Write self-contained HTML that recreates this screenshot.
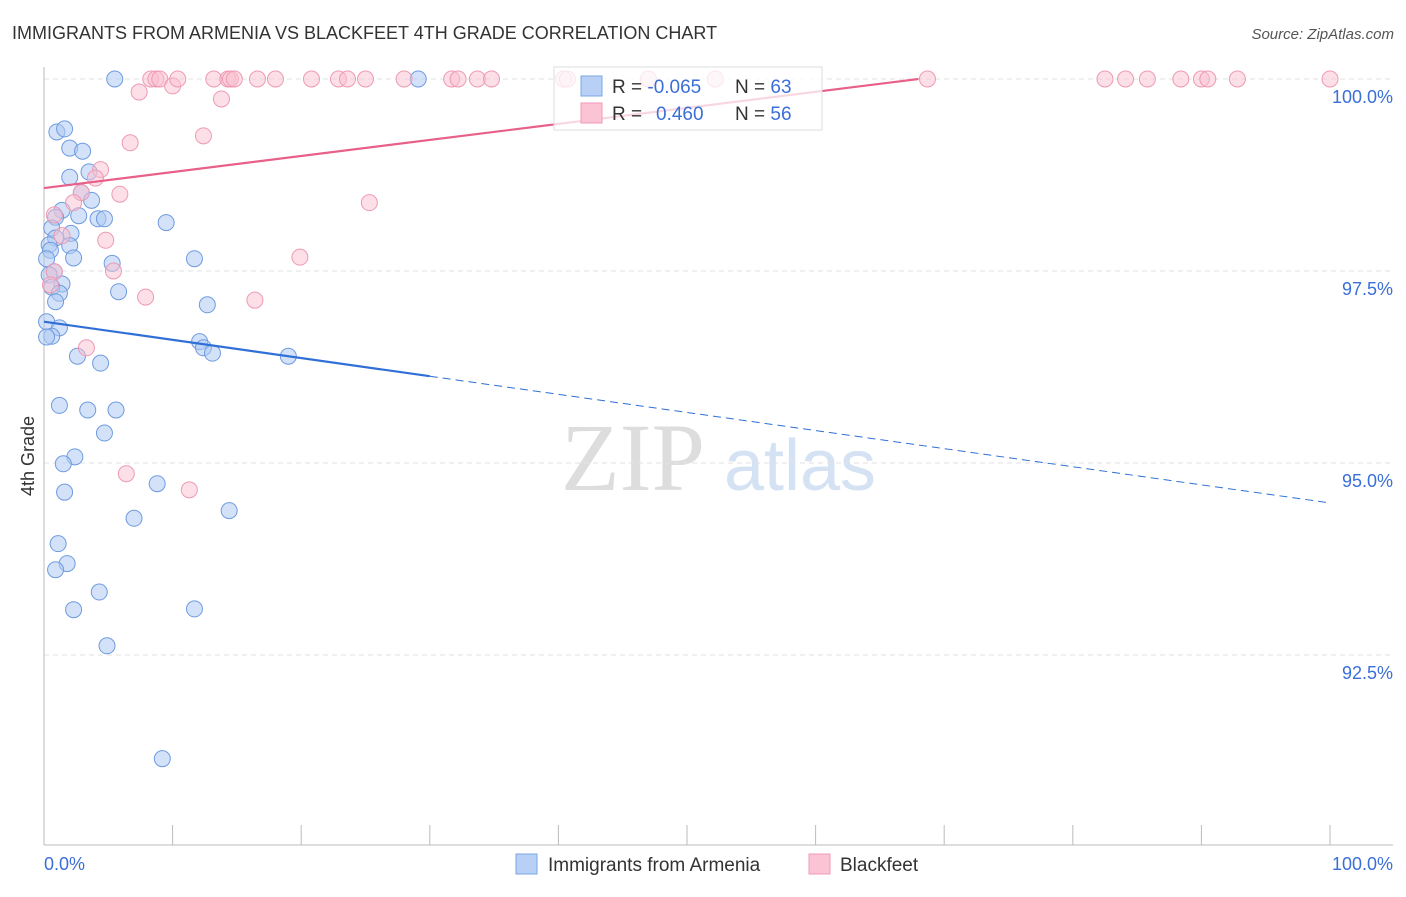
<!DOCTYPE html>
<html><head><meta charset="utf-8"><style>
body{margin:0;background:#fff;font-family:"Liberation Sans",sans-serif}
</style></head><body>
<svg id="chart" width="1406" height="892" xmlns="http://www.w3.org/2000/svg" font-family="Liberation Sans, sans-serif">
<text x="12" y="39" font-size="18" fill="#333">IMMIGRANTS FROM ARMENIA VS BLACKFEET 4TH GRADE CORRELATION CHART</text>
<text x="1394" y="39" font-size="15" fill="#555" text-anchor="end" font-style="italic">Source: ZipAtlas.com</text>
<g><text x="633" y="490" font-size="96" fill="#ddd" text-anchor="middle" font-family="Liberation Serif, serif">ZIP</text><text x="800" y="490" font-size="72" fill="#d4e2f4" text-anchor="middle">atlas</text></g>
<g id="grid"></g><g id="axes"></g><g id="marks"></g>
<text transform="translate(34,456) rotate(-90)" font-size="18" fill="#333" text-anchor="middle">4th Grade</text>
<g>
<rect x="554" y="67" width="268" height="63" fill="#fff" fill-opacity="0.75" stroke="#ddd"/>
<rect x="581" y="76" width="21" height="20" fill="#b8d0f5" stroke="#7da6e6"/>
<rect x="581" y="103" width="21" height="20" fill="#fbc4d4" stroke="#f09ab5"/>
<text x="612" y="93" font-size="19" fill="#333">R = <tspan fill="#3a6fd8">-0.065</tspan></text>
<text x="735" y="93" font-size="19" fill="#333">N = <tspan fill="#3a6fd8">63</tspan></text>
<text x="612" y="120" font-size="19" fill="#333">R = <tspan fill="#3a6fd8" x="656">0.460</tspan></text>
<text x="735" y="120" font-size="19" fill="#333">N = <tspan fill="#3a6fd8">56</tspan></text>
</g>
<g>
<rect x="516" y="854" width="21" height="20" fill="#b8d0f5" stroke="#7da6e6"/>
<text x="548" y="871" font-size="19" fill="#333">Immigrants from Armenia</text>
<rect x="809" y="854" width="21" height="20" fill="#fbc4d4" stroke="#f09ab5"/>
<text x="840" y="871" font-size="19" fill="#333">Blackfeet</text>
</g>
</svg>
<script>
const yTicks=[100,97.5,95,92.5];
const yTickLabels=["100.0%","97.5%","95.0%","92.5%"];
const xTickLabels=["0.0%","100.0%"];
const blueX=[5.5,29.1,1.0,1.6,2.0,3.0,2.0,3.5,2.9,3.7,1.4,0.9,2.7,4.2,4.7,9.5,0.6,2.1,0.9,0.4,2.0,0.5,2.3,0.2,5.3,11.7,0.8,0.4,5.8,1.4,0.6,1.2,0.9,12.7,0.2,1.2,0.6,0.2,12.1,12.4,13.1,19.0,2.6,4.4,1.2,3.4,5.6,4.7,2.4,1.5,1.6,8.8,7.0,14.4,1.1,1.8,0.9,4.3,2.3,11.7,4.9,9.2];
const blueY=[100,100,99.31,99.35,99.10,99.06,98.72,98.79,98.52,98.42,98.29,98.20,98.22,98.18,98.18,98.13,98.06,97.99,97.93,97.84,97.83,97.77,97.67,97.66,97.60,97.66,97.49,97.45,97.23,97.33,97.29,97.21,97.10,97.06,96.84,96.76,96.65,96.64,96.58,96.50,96.43,96.39,96.39,96.30,95.75,95.69,95.69,95.39,95.08,94.99,94.62,94.73,94.28,94.38,93.95,93.69,93.61,93.32,93.09,93.10,92.62,91.15];
const pinkX=[7.4,8.3,8.7,9.0,10.0,10.4,13.2,13.8,14.3,14.5,14.8,16.6,18.0,20.8,22.9,23.6,25.0,28.0,31.7,32.2,33.7,34.8,40.4,40.7,47.0,52.2,68.7,82.5,84.1,85.8,88.4,90.0,90.5,92.8,100,6.7,12.4,4.4,4.0,5.9,2.9,2.3,25.3,0.8,1.4,4.8,19.9,0.8,5.4,0.5,7.9,16.4,3.3,6.4,11.3];
const pinkY=[99.83,100,100,100,99.91,100,100,99.74,100,100,100,100,100,100,100,100,100,100,100,100,100,100,100,100,100,100,100,100,100,100,100,100,100,100,100,99.17,99.26,98.82,98.71,98.50,98.52,98.39,98.39,98.23,97.96,97.90,97.68,97.49,97.50,97.32,97.16,97.12,96.50,94.86,94.65];
const blueTrend=[[0,96.84],[30,96.13],[100,94.48]];
const pinkTrend=[[0,98.58],[68,100]];
const X=v=>44+v*12.86, Y=v=>79+(100-v)*76.8;
const NS="http://www.w3.org/2000/svg";
function mk(p,t,a){const e=document.createElementNS(NS,t);for(const k in a)e.setAttribute(k,a[k]);p.appendChild(e);return e;}
const grid=document.getElementById('grid'),axes=document.getElementById('axes'),marks=document.getElementById('marks');
yTicks.forEach((t,i)=>{
 const l=mk(grid,'line',{x1:44,x2:1393,y1:Y(t),y2:Y(t),stroke:'#e2e2e2','stroke-dasharray':'5,4'});
 
 
 const tx=mk(axes,'text',{x:1393,y:Y(t)+24,'font-size':18,fill:'#3a6fd8','text-anchor':'end'});
 tx.textContent=yTickLabels[i];
 
 
});
const ya=mk(axes,'line',{x1:44,x2:44,y1:67,y2:845,stroke:'#bbb'});


const xa=mk(axes,'line',{x1:44,x2:1393,y1:845,y2:845,stroke:'#bbb'});


for(let i=0;i<=10;i++){
 const t=mk(axes,'line',{x1:X(i*10),x2:X(i*10),y1:825,y2:845,stroke:'#bbb'});
 
 
}
[[0,'start'],[100,'end']].forEach((d,i)=>{
 const tx=mk(axes,'text',{x:d[0]===0?44:1393,y:870,'font-size':18,fill:'#3a6fd8','text-anchor':d[1]});
 tx.textContent=xTickLabels[i];
 
 
});
blueX.forEach((x,i)=>{
 const c=mk(marks,'circle',{cx:X(x),cy:Y(blueY[i]),r:8,fill:'#aecbf2','fill-opacity':0.55,stroke:'#6f9be0','stroke-width':1});
 
 
});
pinkX.forEach((x,i)=>{
 const c=mk(marks,'circle',{cx:X(x),cy:Y(pinkY[i]),r:8,fill:'#f9c0d0','fill-opacity':0.5,stroke:'#ee9ab4','stroke-width':1});
 
 
});
const b1=mk(marks,'line',{x1:X(blueTrend[0][0]),y1:Y(blueTrend[0][1]),x2:X(blueTrend[1][0]),y2:Y(blueTrend[1][1]),stroke:'#2f6fd6','stroke-width':2.2});


const b2=mk(marks,'line',{x1:X(blueTrend[1][0]),y1:Y(blueTrend[1][1]),x2:X(blueTrend[2][0]),y2:Y(blueTrend[2][1]),stroke:'#2f6fd6','stroke-width':1,'stroke-dasharray':'8,5'});


const p1=mk(marks,'line',{x1:X(pinkTrend[0][0]),y1:Y(pinkTrend[0][1]),x2:X(pinkTrend[1][0]),y2:Y(pinkTrend[1][1]),stroke:'#e8608a','stroke-width':2.2});


</script>
</body></html>
